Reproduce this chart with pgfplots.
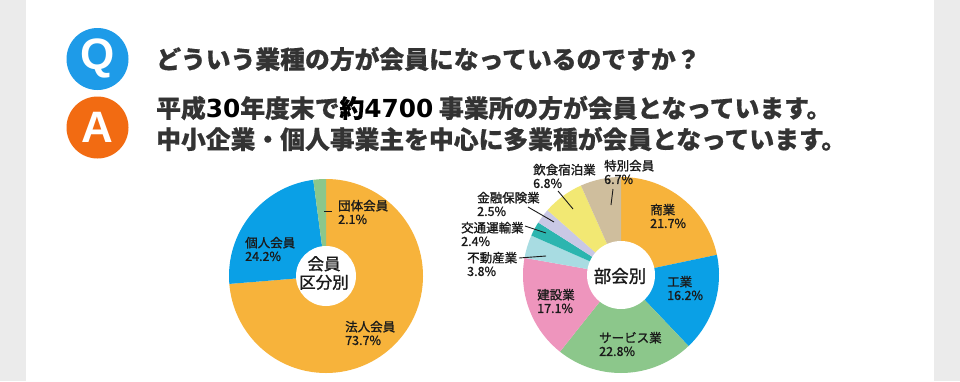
\documentclass[border=0pt]{standalone}
\usepackage{pgfplots}
\pgfplotsset{compat=1.18}
\usepackage{pgfplotstable}
\usepackage{fontspec}
\setmainfont{Noto Sans CJK JP}
\newfontfamily\latinbold{Liberation Sans}
\newfontfamily\digitfont{DejaVu Sans}
\newfontfamily\lblfont[FakeBold=1.2]{Noto Sans CJK JP}
\newfontfamily\hdrfont[FakeBold=0.6]{Noto Sans CJK JP}

\definecolor{bggray}{HTML}{EBEBEB}
\definecolor{qblue}{HTML}{1E9BE8}
\definecolor{aorange}{HTML}{F26B12}
\definecolor{txt}{HTML}{333333}
\definecolor{lbl}{HTML}{1A1A1A}
\definecolor{cOr}{HTML}{F7B33B}
\definecolor{cBl}{HTML}{0AA0E6}
\definecolor{cGr}{HTML}{8CC78B}
\definecolor{cPk}{HTML}{EE95BD}
\definecolor{cCy}{HTML}{A8DCE2}
\definecolor{cTe}{HTML}{2CB5AF}
\definecolor{cLv}{HTML}{C9C8E5}
\definecolor{cYe}{HTML}{F2E873}
\definecolor{cTn}{HTML}{CFBE9D}

% 会員区分別
\pgfplotstableread{
pct color
73.7 cOr
24.2 cBl
2.1 cGr
}\tblA
% 部会別
\pgfplotstableread{
pct color
21.7 cOr
16.2 cBl
22.8 cGr
17.1 cPk
3.8 cCy
2.4 cTe
2.5 cLv
6.8 cYe
6.7 cTn
}\tblB

\newcommand\donutslices[3]{%
  \pgfplotstablegetrowsof{#1}%
  \pgfmathtruncatemacro\lastrow{\pgfplotsretval-1}%
  \gdef\cum{0}%
  \foreach \i in {0,...,\lastrow}{%
    \pgfplotstablegetelem{\i}{pct}\of{#1}\let\sliceval\pgfplotsretval
    \pgfplotstablegetelem{\i}{color}\of{#1}\let\slicecol\pgfplotsretval
    \pgfmathsetmacro\sa{90-3.6*\cum}%
    \pgfmathsetmacro\sb{90-3.6*(\cum+\sliceval)}%
    \fill[fill=\slicecol] (axis cs:0,0) -- ++(\sa:#2) arc[start angle=\sa, end angle=\sb, radius=#2] -- cycle;
    \pgfmathsetmacro\newcum{\cum+\sliceval}%
    \xdef\cum{\newcum}%
  }%
  \fill[white] (axis cs:0,0) circle[radius=#3];
}

\newcommand\dg[1]{{\digitfont\bfseries\color{black}#1}}

\begin{document}
\begin{tikzpicture}[x=1pt,y=-1pt]
\path[use as bounding box] (0,0) rectangle (960,381);
\fill[bggray] (0,0) rectangle (960,381);
\fill[white] (26,0) rectangle (934,381);

% Q & A badges
\fill[qblue] (97.5,59) circle (31);
\node[white, font=\latinbold\bfseries\fontsize{44}{44}\selectfont, inner sep=0] at (97.5,58) {Q};
\fill[aorange] (97.5,127.5) circle (31);
\node[white, font=\latinbold\bfseries\fontsize{44}{44}\selectfont, inner sep=0] at (97.5,127.5) {A};

\tikzset{hdr/.style={anchor=west, inner sep=0, txt, font=\hdrfont\bfseries\fontsize{24.8}{25}\selectfont}}
\node[hdr] at (156,59) {どういう業種の方が会員になっているのですか？};
\node[hdr] at (156,108) {平成\dg{30}年度末で{\color{black}約}\dg{4700} 事業所の方が会員となっています。};
\node[hdr] at (156,139) {中小企業・個人事業主を中心に多業種が会員となっています。};

% left donut
\begin{axis}[at={(326pt,-276pt)}, anchor=center, width=194pt, height=194pt, scale only axis,
  xmin=-1, xmax=1, ymin=-1, ymax=1, hide axis, clip=false]
\pgfplotsextra{\donutslices{\tblA}{97pt}{30pt}}
\end{axis}

% right donut
\begin{axis}[at={(621pt,-275pt)}, anchor=center, width=196pt, height=196pt, scale only axis,
  xmin=-1, xmax=1, ymin=-1, ymax=1, hide axis, clip=false]
\pgfplotsextra{\donutslices{\tblB}{98pt}{34pt}}
\end{axis}

\tikzset{lab/.style={anchor=west, inner sep=0, lbl, align=left, font=\lblfont\fontsize{12.5}{13.5}\selectfont}}
% left labels
\draw[lbl, line width=0.9] (324,211) -- (332,211);
\node[lab] at (338,212) {団体会員\\2.1\%};
\node[lab] at (245,249) {個人会員\\24.2\%};
\node[lab] at (345,333) {法人会員\\73.7\%};
\node[lbl, align=center, inner sep=0, font=\lblfont\fontsize{16.5}{18.5}\selectfont] at (324,273) {会員\\区分別};

% right labels
\draw[lbl, line width=0.9] (558,191) -- (573,209);
\draw[lbl, line width=0.9] (613,189) -- (611,205);
\draw[lbl, line width=0.9] (528,207) -- (554,222);
\draw[lbl, line width=0.9] (525,226) -- (546,233);
\draw[lbl, line width=0.9] (519,258) -- (546,256);
\node[lab] at (533,176) {飲食宿泊業\\6.8\%};
\node[lab] at (604,172) {特別会員\\6.7\%};
\node[lab] at (477,204) {金融保険業\\2.5\%};
\node[lab] at (461,234) {交通運輸業\\2.4\%};
\node[lab] at (467,264) {不動産業\\3.8\%};
\node[lab] at (650,216) {商業\\21.7\%};
\node[lab] at (667,288) {工業\\16.2\%};
\node[lab] at (537,301) {建設業\\17.1\%};
\node[lab] at (599,344) {サービス業\\22.8\%};
\node[lbl, inner sep=0, font=\lblfont\fontsize{17.5}{18}\selectfont] at (620,276) {部会別};
\end{tikzpicture}
\end{document}
